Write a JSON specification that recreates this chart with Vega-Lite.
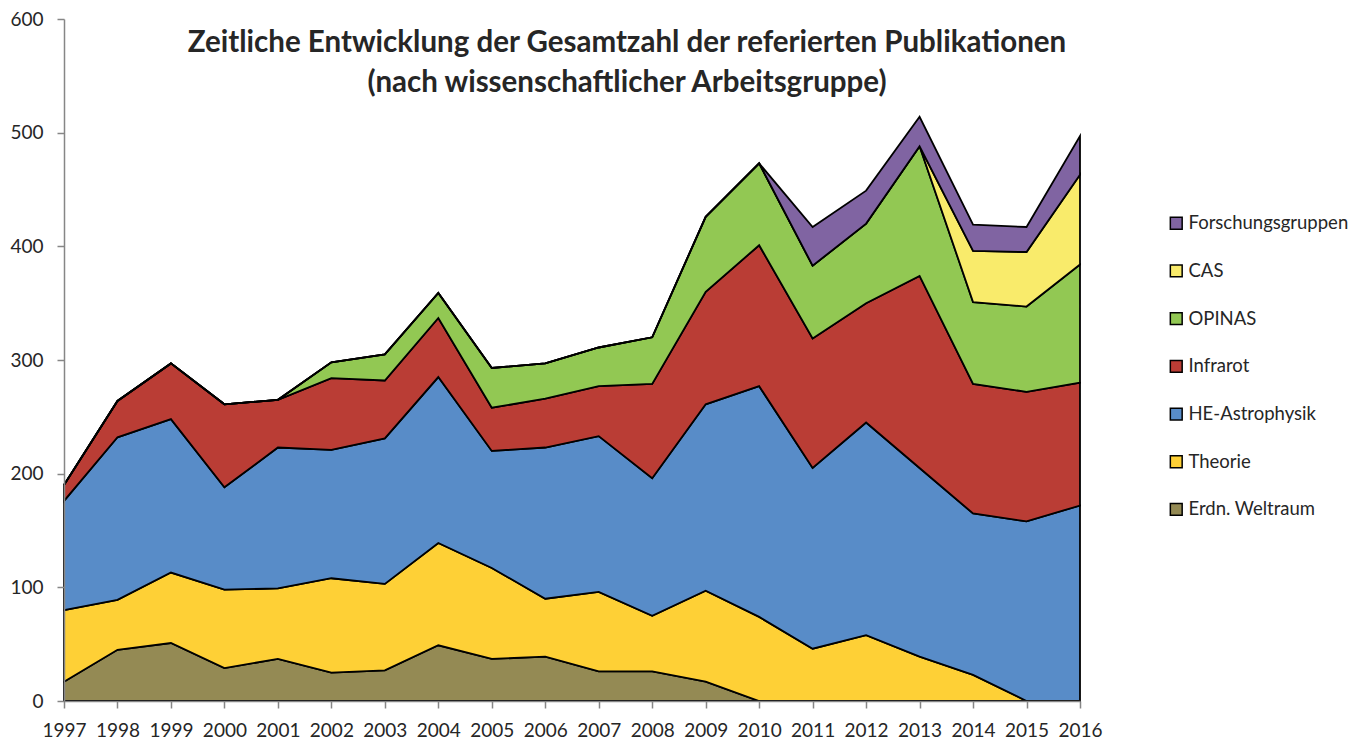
{
  "$schema": "https://vega.github.io/schema/vega-lite/v6.json",
  "autosize": {"type": "none"},
  "padding": {"left": 64, "top": 19, "right": 290, "bottom": 44},
  "width": 1016,
  "height": 682,
  "background": "white",
  "title": {
    "text": ["Zeitliche Entwicklung der Gesamtzahl der referierten Publikationen", "(nach wissenschaftlicher Arbeitsgruppe)"],
    "font": "Lato",
    "fontWeight": "bold",
    "fontSize": 29.5,
    "color": "#262626",
    "lineHeight": 40,
    "anchor": "middle",
    "baseline": "top",
    "offset": 0,
    "dx": 55,
    "dy": 88
  },
  "datasets": {
    "wide": [
      {"Jahr": 1997, "E": 17, "T": 63, "H": 96, "I": 14, "O": 0, "C": 0, "F": 0},
      {"Jahr": 1998, "E": 45, "T": 44, "H": 143, "I": 32, "O": 0, "C": 0, "F": 0},
      {"Jahr": 1999, "E": 51, "T": 62, "H": 135, "I": 49, "O": 0, "C": 0, "F": 0},
      {"Jahr": 2000, "E": 29, "T": 69, "H": 90, "I": 73, "O": 0, "C": 0, "F": 0},
      {"Jahr": 2001, "E": 37, "T": 62, "H": 124, "I": 42, "O": 0, "C": 0, "F": 0},
      {"Jahr": 2002, "E": 25, "T": 83, "H": 113, "I": 63, "O": 14, "C": 0, "F": 0},
      {"Jahr": 2003, "E": 27, "T": 76, "H": 128, "I": 51, "O": 23, "C": 0, "F": 0},
      {"Jahr": 2004, "E": 49, "T": 90, "H": 146, "I": 52, "O": 22, "C": 0, "F": 0},
      {"Jahr": 2005, "E": 37, "T": 80, "H": 103, "I": 38, "O": 35, "C": 0, "F": 0},
      {"Jahr": 2006, "E": 39, "T": 51, "H": 133, "I": 43, "O": 31, "C": 0, "F": 0},
      {"Jahr": 2007, "E": 26, "T": 70, "H": 137, "I": 44, "O": 34, "C": 0, "F": 0},
      {"Jahr": 2008, "E": 26, "T": 49, "H": 121, "I": 83, "O": 41, "C": 0, "F": 0},
      {"Jahr": 2009, "E": 17, "T": 80, "H": 164, "I": 99, "O": 66, "C": 0, "F": 0},
      {"Jahr": 2010, "E": 0, "T": 74, "H": 203, "I": 124, "O": 72, "C": 0, "F": 0},
      {"Jahr": 2011, "E": 0, "T": 46, "H": 159, "I": 114, "O": 64, "C": 0, "F": 34},
      {"Jahr": 2012, "E": 0, "T": 58, "H": 187, "I": 105, "O": 70, "C": 0, "F": 29},
      {"Jahr": 2013, "E": 0, "T": 39, "H": 166, "I": 169, "O": 114, "C": 0, "F": 26},
      {"Jahr": 2014, "E": 0, "T": 23, "H": 142, "I": 114, "O": 72, "C": 45, "F": 23},
      {"Jahr": 2015, "E": 0, "T": 0, "H": 158, "I": 114, "O": 75, "C": 48, "F": 22},
      {"Jahr": 2016, "E": 0, "T": 0, "H": 172, "I": 108, "O": 104, "C": 79, "F": 34}
    ],
    "gruppen": [
      {"key": "E", "Gruppe": "Erdn. Weltraum", "ord": 0},
      {"key": "T", "Gruppe": "Theorie", "ord": 1},
      {"key": "H", "Gruppe": "HE-Astrophysik", "ord": 2},
      {"key": "I", "Gruppe": "Infrarot", "ord": 3},
      {"key": "O", "Gruppe": "OPINAS", "ord": 4},
      {"key": "C", "Gruppe": "CAS", "ord": 5},
      {"key": "F", "Gruppe": "Forschungsgruppen", "ord": 6}
    ]
  },
  "data": {"name": "wide"},
  "transform": [
    {"fold": ["E", "T", "H", "I", "O", "C", "F"], "as": ["key", "Anzahl"]},
    {"lookup": "key", "from": {"data": {"name": "gruppen"}, "key": "key", "fields": ["Gruppe", "ord"]}}
  ],
  "mark": {"type": "area", "stroke": "black", "strokeWidth": 1.8, "strokeJoin": "miter", "line": false},
  "encoding": {
    "x": {
      "field": "Jahr", "type": "quantitative",
      "scale": {"domain": [1997, 2016], "nice": false, "zero": false},
      "axis": {
        "title": null, "grid": false, "format": "d",
        "values": [1997, 1998, 1999, 2000, 2001, 2002, 2003, 2004, 2005, 2006, 2007, 2008, 2009, 2010, 2011, 2012, 2013, 2014, 2015, 2016],
        "domainColor": "#868686", "domainWidth": 1.5,
        "tickColor": "#868686", "tickWidth": 1.5, "tickSize": 7,
        "labelFont": "Lato", "labelFontSize": 19, "labelColor": "#262626",
        "labelPadding": 13, "labelOverlap": false, "labelFlush": false,
        "zindex": 1
      }
    },
    "y": {
      "field": "Anzahl", "type": "quantitative", "stack": "zero",
      "scale": {"domain": [0, 600], "nice": false},
      "axis": {
        "title": null, "grid": false,
        "values": [0, 100, 200, 300, 400, 500, 600],
        "domainColor": "#868686", "domainWidth": 1.5,
        "tickColor": "#868686", "tickWidth": 1.5, "tickSize": 7,
        "labelFont": "Lato", "labelFontSize": 19, "labelColor": "#262626",
        "labelPadding": 14, "labelFlush": false,
        "zindex": 1
      }
    },
    "color": {
      "field": "Gruppe", "type": "nominal",
      "scale": {
        "domain": ["Forschungsgruppen", "CAS", "OPINAS", "Infrarot", "HE-Astrophysik", "Theorie", "Erdn. Weltraum"],
        "range": ["#8064A2", "#F9EB6B", "#92C853", "#BA3D35", "#588CC8", "#FED036", "#948A54"]
      },
      "legend": {
        "title": null, "orient": "none", "legendX": 1103, "legendY": 195,
        "padding": 0,
        "symbolType": "square", "symbolSize": 140,
        "symbolStrokeColor": "black", "symbolStrokeWidth": 1.5,
        "labelFont": "Lato", "labelFontSize": 18.5, "labelColor": "#262626",
        "labelOffset": 3, "rowPadding": 28.7, "labelLimit": 300
      }
    },
    "order": {"field": "ord", "type": "quantitative", "sort": "ascending"}
  },
  "config": {"view": {"stroke": null}}
}
